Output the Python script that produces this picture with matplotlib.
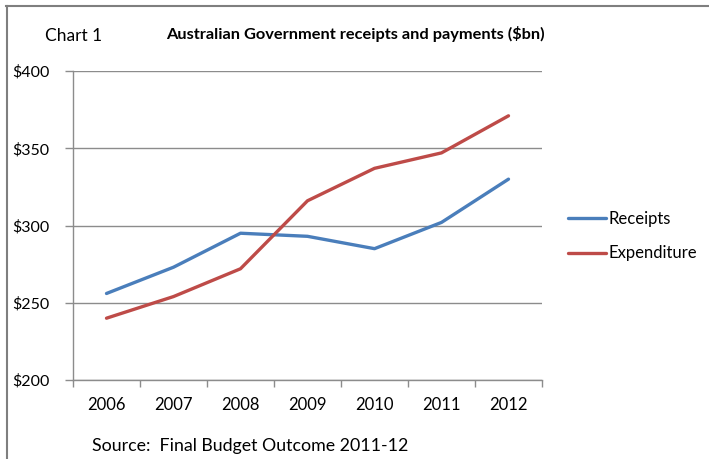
import numpy as np
import matplotlib.pyplot as plt
from matplotlib.lines import Line2D
from matplotlib.ticker import FixedLocator, NullFormatter

years = ["2006", "2007", "2008", "2009", "2010", "2011", "2012"]
receipts = [256, 273, 295, 293, 285, 302, 330]
expenditure = [240, 254, 272, 316, 337, 347, 371]
yticks = [200, 250, 300, 350, 400]

plt.rcParams["font.family"] = ["Lato", "DejaVu Sans"]
grey = "#8c8c8c"

fig = plt.figure(figsize=(7.09, 4.59), dpi=100)
ax = fig.add_axes([73 / 709, 1 - 380 / 459, (542 - 73) / 709, (380 - 71) / 459])

x = np.arange(len(years))
ax.plot(x, receipts, color="#4A7EBB", lw=2.4, label="Receipts", solid_capstyle="round")
ax.plot(x, expenditure, color="#BE4B48", lw=2.4, label="Expenditure", solid_capstyle="round")

ax.set_xlim(-0.5, len(years) - 0.5)
ax.set_ylim(200, 400)
ax.set_xticks(x)
ax.set_xticklabels(years, fontsize=12)
ax.xaxis.set_minor_locator(FixedLocator(np.arange(-0.5, len(years), 1)))
ax.xaxis.set_minor_formatter(NullFormatter())
ax.tick_params(axis="x", which="major", length=0, pad=12)
ax.tick_params(axis="x", which="minor", length=5, width=1, color=grey, direction="out")

ax.set_yticks(yticks)
ax.set_yticklabels(["$%d" % v for v in yticks], fontsize=11.5)
ax.tick_params(axis="y", length=6, width=1, color=grey, direction="out", pad=11)

ax.grid(axis="y", color=grey, lw=1)
ax.set_axisbelow(True)
for s in ["top", "right"]:
    ax.spines[s].set_visible(False)
for s in ["left", "bottom"]:
    ax.spines[s].set_color(grey)
    ax.spines[s].set_linewidth(1)

fig.text(45 / 709, 1 - 36 / 459, "Chart 1", fontsize=12.5, va="center", ha="left")
fig.text(166 / 709, 1 - 34 / 459, "Australian Government receipts and payments ($bn)",
         fontsize=11.8, fontweight="bold", va="center", ha="left")
fig.text(92 / 709, 1 - 446 / 459, "Source:  Final Budget Outcome 2011-12",
         fontsize=12.8, va="center", ha="left")

fig.legend(loc="upper left", bbox_to_anchor=(568 / 709, 1 - 211 / 459), frameon=False,
           fontsize=12, handlelength=2.3, handletextpad=0.15, labelspacing=1.1,
           borderaxespad=0, borderpad=0)

# outer frame (top and left edges only)
fig.add_artist(Line2D([6 / 709, 1], [1 - 6 / 459, 1 - 6 / 459], color="#7f7f7f", lw=1.5))
fig.add_artist(Line2D([7 / 709, 7 / 709], [0, 1 - 6 / 459], color="#7f7f7f", lw=1.5))

fig.savefig("out.png", dpi=100)
